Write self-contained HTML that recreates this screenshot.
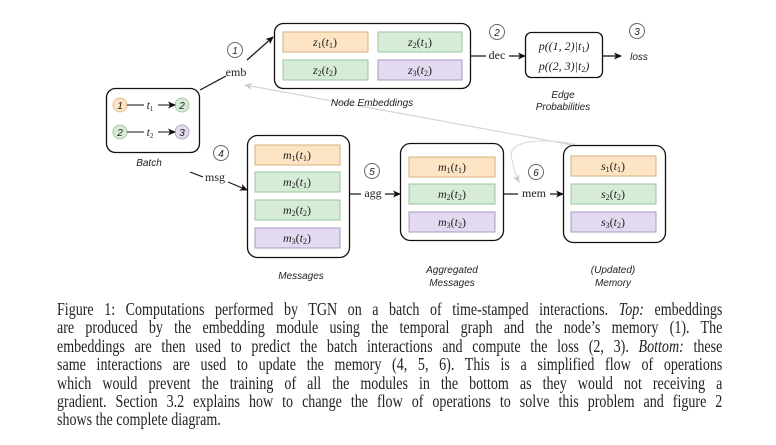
<!DOCTYPE html>
<html><head><meta charset="utf-8">
<style>
body{margin:0;background:#fff;width:776px;height:445px;overflow:hidden;position:relative}
svg{position:absolute;left:0;top:0}
.m{font-family:"Liberation Serif",serif;font-style:italic;font-size:12px;text-anchor:middle;fill:#222}
.r{font-family:"Liberation Serif",serif;font-size:12px;text-anchor:middle;fill:#222}
.s{font-family:"Liberation Sans",sans-serif;font-style:italic;font-size:10px;text-anchor:middle;fill:#222}
.cap{position:absolute;left:57px;top:300px;width:853px;font-family:"Liberation Serif",serif;font-size:18px;line-height:18.4px;color:#222;transform:scaleX(0.78);transform-origin:0 0}
.cap div{text-align:justify;text-align-last:justify;white-space:nowrap}
.cap div.l{text-align-last:left}
</style></head><body>
<svg width="776" height="445" viewBox="0 0 776 445">
<defs>
<marker id="a" markerWidth="8" markerHeight="8" refX="7" refY="4" orient="auto" markerUnits="userSpaceOnUse"><path d="M0,0.5 L8,4 L0,7.5 L2,4z" fill="#111"/></marker>
<marker id="g" markerWidth="8" markerHeight="8" refX="7" refY="4" orient="auto" markerUnits="userSpaceOnUse"><path d="M0,0.5 L8,4 L0,7.5 L2,4z" fill="#ccc"/></marker>
</defs>
<path d="M578,146 L245,85" stroke="#d4d4d4" stroke-width="1.2" fill="none" marker-end="url(#g)"/>
<path d="M575,144 C540,138 505,140 512,160 C514,170 516,176 519,182" stroke="#ddd" stroke-width="1.2" fill="none" marker-end="url(#g)"/>
<rect x="274.5" y="23.5" width="196" height="65" rx="9" fill="#fff" stroke="#111" stroke-width="1.3"/>
<rect x="283" y="32" width="85" height="20" fill="#fde4c4" stroke="#d6b17a"/>
<rect x="378" y="32" width="84" height="20" fill="#d6ecd6" stroke="#9cc29c"/>
<rect x="283" y="60" width="85" height="20" fill="#d6ecd6" stroke="#9cc29c"/>
<rect x="378" y="60" width="84" height="20" fill="#e3daf0" stroke="#a99bc4"/>
<text class="m" x="325" y="46">z<tspan font-size="8" dy="2" font-style="normal">1</tspan><tspan dy="-2" font-style="normal">(</tspan>t<tspan font-size="8" dy="2" font-style="normal">1</tspan><tspan dy="-2" font-style="normal">)</tspan></text>
<text class="m" x="420" y="46">z<tspan font-size="8" dy="2" font-style="normal">2</tspan><tspan dy="-2" font-style="normal">(</tspan>t<tspan font-size="8" dy="2" font-style="normal">1</tspan><tspan dy="-2" font-style="normal">)</tspan></text>
<text class="m" x="325" y="74">z<tspan font-size="8" dy="2" font-style="normal">2</tspan><tspan dy="-2" font-style="normal">(</tspan>t<tspan font-size="8" dy="2" font-style="normal">2</tspan><tspan dy="-2" font-style="normal">)</tspan></text>
<text class="m" x="420" y="74">z<tspan font-size="8" dy="2" font-style="normal">3</tspan><tspan dy="-2" font-style="normal">(</tspan>t<tspan font-size="8" dy="2" font-style="normal">2</tspan><tspan dy="-2" font-style="normal">)</tspan></text>
<text class="s" x="372" y="106">Node Embeddings</text>
<circle cx="497" cy="32" r="7.5" fill="#fff" stroke="#666"/><text class="s" x="497" y="36" font-style="normal" font-size="9">2</text>
<line x1="471" y1="56" x2="486" y2="56" stroke="#111" stroke-width="1.2"/>
<text class="r" x="497" y="59" font-size="11">dec</text>
<line x1="509" y1="56" x2="525" y2="56" stroke="#111" stroke-width="1.2" marker-end="url(#a)"/>
<rect x="525.5" y="32.5" width="77" height="45" rx="6" fill="#fff" stroke="#111" stroke-width="1.3"/>
<text class="m" x="564" y="50">p((1, 2)|t<tspan font-size="8" dy="2" font-style="normal">1</tspan><tspan dy="-2">)</tspan></text>
<text class="m" x="564" y="70">p((2, 3)|t<tspan font-size="8" dy="2" font-style="normal">2</tspan><tspan dy="-2">)</tspan></text>
<text class="s" x="563" y="98">Edge</text>
<text class="s" x="563" y="110">Probabilities</text>
<line x1="603" y1="56" x2="621" y2="56" stroke="#111" stroke-width="1.2" marker-end="url(#a)"/>
<circle cx="637" cy="31" r="7.5" fill="#fff" stroke="#666"/><text class="s" x="637" y="35" font-style="normal" font-size="9">3</text>
<text class="s" x="639" y="60">loss</text>
<circle cx="235" cy="50" r="7.5" fill="#fff" stroke="#666"/><text class="s" x="235" y="54" font-style="normal" font-size="9">1</text>
<line x1="200" y1="90" x2="226" y2="76" stroke="#111" stroke-width="1.2"/>
<text class="r" x="236" y="76" font-size="11">emb</text>
<line x1="247" y1="60" x2="273" y2="37" stroke="#111" stroke-width="1.2" marker-end="url(#a)"/>
<rect x="106.5" y="88.5" width="93" height="64" rx="9" fill="#fff" stroke="#111" stroke-width="1.3"/>
<circle cx="120" cy="105" r="7" fill="#fde4c4" stroke="#e0c08f"/><text class="s" x="120" y="109" font-style="normal">1</text>
<circle cx="182" cy="105" r="7" fill="#d6ecd6" stroke="#a8c8a8"/><text class="s" x="182" y="109" font-style="normal">2</text>
<circle cx="120" cy="132" r="7" fill="#d6ecd6" stroke="#a8c8a8"/><text class="s" x="120" y="136" font-style="normal">2</text>
<circle cx="182" cy="132" r="7" fill="#e3daf0" stroke="#b5a8cc"/><text class="s" x="182" y="136" font-style="normal">3</text>
<line x1="127" y1="105" x2="144" y2="105" stroke="#111"/><text class="m" x="150" y="109" font-size="11">t<tspan font-size="7" dy="2" font-style="normal">1</tspan></text>
<line x1="158" y1="105" x2="175" y2="105" stroke="#111" marker-end="url(#a)"/>
<line x1="127" y1="132" x2="144" y2="132" stroke="#111"/><text class="m" x="150" y="136" font-size="11">t<tspan font-size="7" dy="2" font-style="normal">2</tspan></text>
<line x1="158" y1="132" x2="175" y2="132" stroke="#111" marker-end="url(#a)"/>
<text class="s" x="149" y="166">Batch</text>
<circle cx="221" cy="153" r="7.5" fill="#fff" stroke="#666"/><text class="s" x="221" y="157" font-style="normal" font-size="9">4</text>
<line x1="190" y1="172" x2="203" y2="177" stroke="#111" stroke-width="1.2"/>
<text class="r" x="215" y="181" font-size="11">msg</text>
<line x1="228" y1="182" x2="247" y2="190" stroke="#111" stroke-width="1.2" marker-end="url(#a)"/>
<rect x="247.5" y="135.5" width="102" height="122" rx="10" fill="#fff" stroke="#111" stroke-width="1.3"/>
<rect x="255" y="145" width="85" height="20" fill="#fde4c4" stroke="#d6b17a"/>
<rect x="255" y="172" width="85" height="20" fill="#d6ecd6" stroke="#9cc29c"/>
<rect x="255" y="200" width="85" height="20" fill="#d6ecd6" stroke="#9cc29c"/>
<rect x="255" y="228" width="85" height="20" fill="#e3daf0" stroke="#a99bc4"/>
<text class="m" x="297" y="159">m<tspan font-size="8" dy="2" font-style="normal">1</tspan><tspan dy="-2" font-style="normal">(</tspan>t<tspan font-size="8" dy="2" font-style="normal">1</tspan><tspan dy="-2" font-style="normal">)</tspan></text>
<text class="m" x="297" y="186">m<tspan font-size="8" dy="2" font-style="normal">2</tspan><tspan dy="-2" font-style="normal">(</tspan>t<tspan font-size="8" dy="2" font-style="normal">1</tspan><tspan dy="-2" font-style="normal">)</tspan></text>
<text class="m" x="297" y="214">m<tspan font-size="8" dy="2" font-style="normal">2</tspan><tspan dy="-2" font-style="normal">(</tspan>t<tspan font-size="8" dy="2" font-style="normal">2</tspan><tspan dy="-2" font-style="normal">)</tspan></text>
<text class="m" x="297" y="242">m<tspan font-size="8" dy="2" font-style="normal">3</tspan><tspan dy="-2" font-style="normal">(</tspan>t<tspan font-size="8" dy="2" font-style="normal">2</tspan><tspan dy="-2" font-style="normal">)</tspan></text>
<text class="s" x="301" y="279">Messages</text>
<circle cx="372" cy="171" r="7.5" fill="#fff" stroke="#666"/><text class="s" x="372" y="175" font-style="normal" font-size="9">5</text>
<line x1="350" y1="194" x2="361" y2="194" stroke="#111" stroke-width="1.2"/>
<text class="r" x="373" y="197" font-size="11">agg</text>
<line x1="385" y1="194" x2="400" y2="194" stroke="#111" stroke-width="1.2" marker-end="url(#a)"/>
<rect x="400.5" y="143.5" width="103" height="97" rx="10" fill="#fff" stroke="#111" stroke-width="1.3"/>
<rect x="409" y="157" width="86" height="20" fill="#fde4c4" stroke="#d6b17a"/>
<rect x="409" y="184" width="86" height="20" fill="#d6ecd6" stroke="#9cc29c"/>
<rect x="409" y="212" width="86" height="20" fill="#e3daf0" stroke="#a99bc4"/>
<text class="m" x="452" y="171">m<tspan font-size="8" dy="2" font-style="normal">1</tspan><tspan dy="-2" font-style="normal">(</tspan>t<tspan font-size="8" dy="2" font-style="normal">1</tspan><tspan dy="-2" font-style="normal">)</tspan></text>
<text class="m" x="452" y="198">m<tspan font-size="8" dy="2" font-style="normal">2</tspan><tspan dy="-2" font-style="normal">(</tspan>t<tspan font-size="8" dy="2" font-style="normal">2</tspan><tspan dy="-2" font-style="normal">)</tspan></text>
<text class="m" x="452" y="226">m<tspan font-size="8" dy="2" font-style="normal">3</tspan><tspan dy="-2" font-style="normal">(</tspan>t<tspan font-size="8" dy="2" font-style="normal">2</tspan><tspan dy="-2" font-style="normal">)</tspan></text>
<text class="s" x="452" y="273">Aggregated</text>
<text class="s" x="452" y="286">Messages</text>
<circle cx="536" cy="172" r="7.5" fill="#fff" stroke="#666"/><text class="s" x="536" y="176" font-style="normal" font-size="9">6</text>
<line x1="504" y1="194" x2="518" y2="194" stroke="#111" stroke-width="1.2"/>
<text class="r" x="534" y="197" font-size="11">mem</text>
<line x1="550" y1="194" x2="563" y2="194" stroke="#111" stroke-width="1.2" marker-end="url(#a)"/>
<rect x="563.5" y="145.5" width="102" height="97" rx="10" fill="#fff" stroke="#111" stroke-width="1.3"/>
<rect x="571" y="156" width="85" height="20" fill="#fde4c4" stroke="#d6b17a"/>
<rect x="571" y="184" width="85" height="20" fill="#d6ecd6" stroke="#9cc29c"/>
<rect x="571" y="212" width="85" height="20" fill="#e3daf0" stroke="#a99bc4"/>
<text class="m" x="613" y="170">s<tspan font-size="8" dy="2" font-style="normal">1</tspan><tspan dy="-2" font-style="normal">(</tspan>t<tspan font-size="8" dy="2" font-style="normal">1</tspan><tspan dy="-2" font-style="normal">)</tspan></text>
<text class="m" x="613" y="198">s<tspan font-size="8" dy="2" font-style="normal">2</tspan><tspan dy="-2" font-style="normal">(</tspan>t<tspan font-size="8" dy="2" font-style="normal">2</tspan><tspan dy="-2" font-style="normal">)</tspan></text>
<text class="m" x="613" y="226">s<tspan font-size="8" dy="2" font-style="normal">3</tspan><tspan dy="-2" font-style="normal">(</tspan>t<tspan font-size="8" dy="2" font-style="normal">2</tspan><tspan dy="-2" font-style="normal">)</tspan></text>
<text class="s" x="613" y="273">(Updated)</text>
<text class="s" x="613" y="286">Memory</text>
</svg>
<div class="cap">
<div>Figure 1: Computations performed by TGN on a batch of time-stamped interactions. <i>Top:</i> embeddings</div>
<div>are produced by the embedding module using the temporal graph and the node’s memory (1). The</div>
<div>embeddings are then used to predict the batch interactions and compute the loss (2, 3). <i>Bottom:</i> these</div>
<div>same interactions are used to update the memory (4, 5, 6). This is a simplified flow of operations</div>
<div>which would prevent the training of all the modules in the bottom as they would not receiving a</div>
<div>gradient. Section 3.2 explains how to change the flow of operations to solve this problem and figure 2</div>
<div class="l">shows the complete diagram.</div>
</div>
</body></html>
